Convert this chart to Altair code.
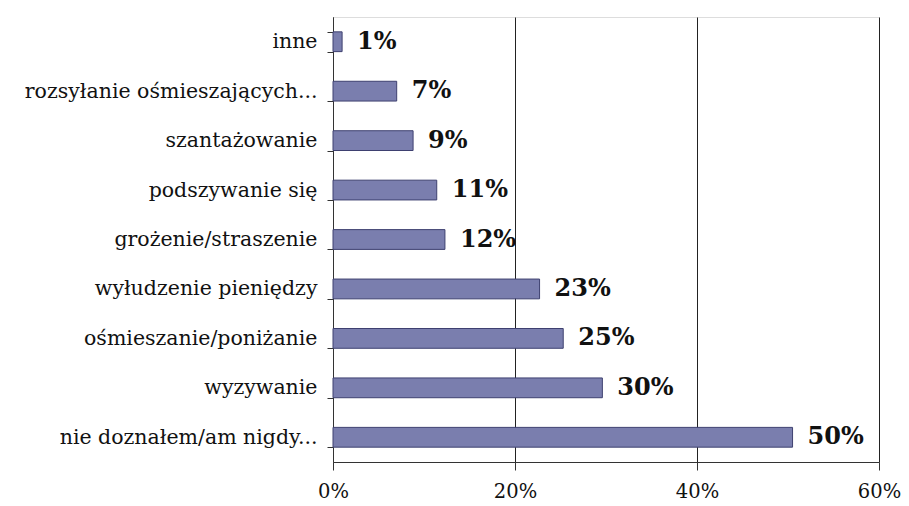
import altair as alt
import pandas as pd

categories = [
    "inne",
    "rozsyłanie ośmieszających...",
    "szantażowanie",
    "podszywanie się",
    "grożenie/straszenie",
    "wyłudzenie pieniędzy",
    "ośmieszanie/poniżanie",
    "wyzywanie",
    "nie doznałem/am nigdy...",
]
values = [0.01, 0.07, 0.088, 0.114, 0.123, 0.227, 0.253, 0.296, 0.505]
labels = ["1%", "7%", "9%", "11%", "12%", "23%", "25%", "30%", "50%"]

df = pd.DataFrame({"cat": categories, "val": values, "lab": labels})

FONT = "DejaVu Serif"

x = alt.X(
    "val:Q",
    scale=alt.Scale(domain=[0, 0.6], nice=False),
    axis=alt.Axis(
        values=[0, 0.2, 0.4, 0.6],
        format=".0%",
        title=None,
        grid=True,
        gridColor="#222222",
        gridWidth=1,
        domainColor="#333333",
        tickColor="#333333",
        tickSize=8,
        labelPadding=12,
        labelFlush=False,
        labelFont=FONT,
        labelFontSize=19.5,
        labelColor="#111111",
    ),
)
y = alt.Y(
    "cat:N",
    sort=categories,
    scale=alt.Scale(paddingInner=0.6, paddingOuter=0.3),
    axis=alt.Axis(
        title=None,
        tickBand="extent",
        tickSize=6,
        tickColor="#333333",
        domainColor="#333333",
        labelFont=FONT,
        labelFontSize=20.5,
        labelColor="#111111",
        labelLimit=400,
        labelPadding=10,
    ),
)

bars = alt.Chart(df).mark_bar(
    color="#7a7eae", stroke="#3e4070", strokeWidth=1
).encode(x=x, y=y)

text = alt.Chart(df).mark_text(
    align="left", dx=15, font=FONT, fontSize=24, fontWeight="bold", color="#111111"
).encode(x="val:Q", y=alt.Y("cat:N", sort=categories), text="lab:N")

chart = (
    alt.layer(bars, text)
    .properties(
        width=546,
        height=445,
        autosize=alt.AutoSizeParams(type="none"),
        padding={"left": 325, "top": 9, "right": 22, "bottom": 42},
    )
    .configure_view(stroke=None)
    .configure(background="white")
)

chart.save("out.html", embed_options={"renderer": "svg", "actions": False})
